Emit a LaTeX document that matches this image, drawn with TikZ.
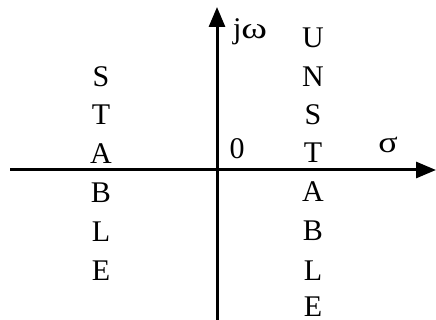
\documentclass[tikz,border=0pt]{standalone}
\usepackage{fontspec}
\setmainfont{Liberation Serif}
\usetikzlibrary{arrows.meta}
\begin{document}
\begin{tikzpicture}[x=1pt,y=-1pt,
  axis/.style={line width=3pt,-{Triangle[length=20pt,width=16pt]}},
  lab/.style={anchor=base,inner sep=0pt,font=\fontsize{30}{30}\selectfont}]
\useasboundingbox (0,0) rectangle (436,320);
\coordinate (xl) at (10,170);
\coordinate (xr) at (436,170);
\coordinate (yb) at (217,320);
\coordinate (yt) at (217,7);
\draw[axis] (xl) -- (xr);
\draw[axis] (yb) -- (yt);
\node[lab] (jw) at (250,39) {j\scalebox{1.3}[1]{ω}};
\node[lab] (zero) at (237,159) {0};
\node[lab] (sigma) at (388,153) {\scalebox{1.2}[1]{σ}};
\foreach \l/\y [count=\i] in {S/87,T/125,A/164,B/203,L/242,E/280}
  \node[lab] (s\i) at (101,\y) {\l};
\foreach \l/\y [count=\i] in {U/48,N/87,S/125,T/163,A/202,B/241,L/280,E/316}
  \node[lab] (u\i) at (313,\y) {\l};
\end{tikzpicture}
\end{document}
